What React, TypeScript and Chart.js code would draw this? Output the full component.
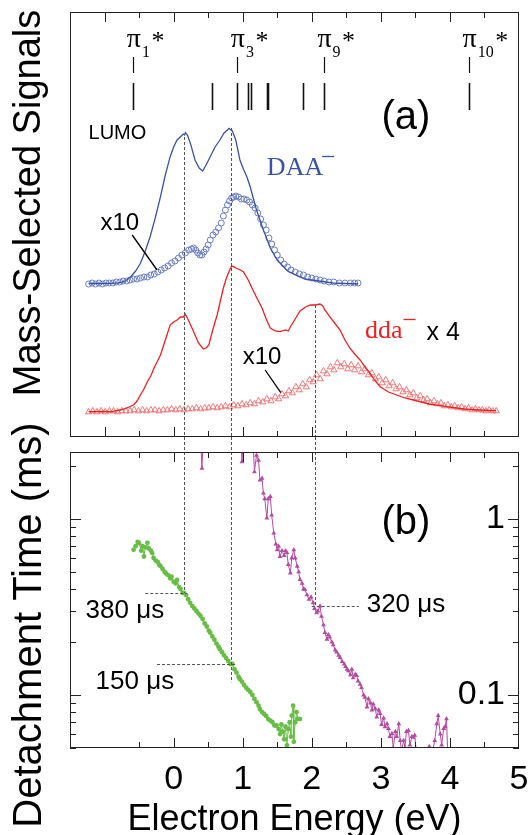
import { useEffect, useRef } from 'react';
import { Chart, registerables } from 'chart.js';

Chart.register(...registerables);

const SANS = '"Liberation Sans", Arial, Helvetica, sans-serif';
const SERIF = '"Liberation Serif", "Times New Roman", Times, serif';

type Pt = [number, number];

// ---------- Panel (a): electron energy (eV) vs mass-selected signal (a.u.)
const daaSignal: Pt[] = [
  [-1.23, 153.5], [-1.05, 153.5], [-0.9, 153.6], [-0.8, 154.2], [-0.72, 155.3], [-0.67, 157.5],
  [-0.62, 160.3], [-0.55, 166], [-0.48, 173.7], [-0.41, 186], [-0.34, 200.3], [-0.27, 218],
  [-0.19, 240.3], [-0.12, 262], [-0.05, 280.3], [0.0, 290], [0.05, 297], [0.1, 300.3],
  [0.14, 303], [0.16, 302], [0.17, 304.5], [0.2, 302], [0.25, 292], [0.31, 277], [0.37, 269],
  [0.42, 266], [0.47, 272], [0.53, 280.3], [0.6, 290], [0.67, 297], [0.73, 304], [0.78, 307],
  [0.8, 308.7], [0.85, 306], [0.9, 297], [0.96, 277], [1.01, 268], [1.06, 260.3], [1.11, 250],
  [1.16, 237], [1.2, 227], [1.25, 217], [1.3, 207], [1.4, 189], [1.5, 177], [1.65, 166],
  [1.9, 158], [2.3, 154], [2.67, 153],
];

const daaSignalX10: Pt[] = [
  [-1.23, 153], [-1.18, 154], [-1.13, 153], [-1.08, 154], [-1.03, 153], [-0.98, 154], [-0.93, 154],
  [-0.88, 154], [-0.83, 155], [-0.78, 155], [-0.73, 156], [-0.68, 156], [-0.63, 157], [-0.58, 158],
  [-0.53, 158], [-0.48, 159], [-0.43, 160], [-0.38, 160], [-0.33, 162], [-0.28, 163], [-0.23, 165],
  [-0.18, 167], [-0.13, 169], [-0.08, 171], [-0.03, 174], [0.02, 176], [0.07, 179], [0.12, 182],
  [0.17, 184], [0.22, 187], [0.26, 188], [0.29, 189], [0.32, 187], [0.35, 184], [0.38, 182],
  [0.41, 182], [0.44, 185], [0.47, 188], [0.5, 192], [0.53, 197], [0.57, 202], [0.61, 205],
  [0.65, 209], [0.69, 214], [0.72, 221], [0.75, 227], [0.78, 232], [0.81, 236], [0.84, 239],
  [0.87, 240], [0.9, 241], [0.94, 240], [0.98, 238], [1.02, 238], [1.06, 237], [1.1, 235],
  [1.14, 232], [1.18, 229], [1.22, 224], [1.26, 218], [1.3, 212], [1.34, 207], [1.38, 199],
  [1.42, 193], [1.46, 187], [1.5, 182], [1.55, 177], [1.6, 173], [1.65, 170], [1.7, 167],
  [1.76, 165], [1.82, 163], [1.88, 162], [1.94, 160], [2.0, 159], [2.06, 158], [2.12, 157],
  [2.18, 156], [2.25, 155], [2.32, 155], [2.4, 154], [2.48, 154], [2.56, 154], [2.62, 154], [2.67, 154],
];

const ddaSignal: Pt[] = [
  [-1.23, 25.3], [-1.05, 25.5], [-0.9, 25.3], [-0.77, 27], [-0.68, 29], [-0.58, 32], [-0.53, 36],
  [-0.48, 42], [-0.43, 48], [-0.38, 55.3], [-0.33, 61], [-0.29, 68], [-0.24, 75], [-0.19, 82],
  [-0.12, 97], [-0.05, 112], [0.0, 115], [0.05, 117], [0.1, 120], [0.14, 120], [0.17, 122.7],
  [0.22, 116], [0.29, 105.3], [0.36, 94], [0.43, 88], [0.47, 89], [0.51, 92], [0.57, 108],
  [0.63, 122], [0.68, 137], [0.72, 149], [0.76, 158], [0.8, 165.3], [0.84, 171], [0.87, 170.3],
  [0.9, 169], [0.94, 168], [1.01, 165.3], [1.08, 157], [1.16, 145.3], [1.22, 137], [1.28, 129],
  [1.34, 118], [1.4, 109], [1.47, 106], [1.54, 105.3], [1.62, 107], [1.66, 106], [1.69, 110],
  [1.76, 118], [1.83, 126], [1.91, 130], [1.98, 132], [2.05, 132], [2.12, 133], [2.16, 131],
  [2.19, 127], [2.26, 120.3], [2.33, 114], [2.41, 107], [2.48, 97], [2.55, 89], [2.62, 83],
  [2.7, 77], [2.77, 70], [2.84, 64], [2.91, 57], [2.99, 50.3], [3.11, 45], [3.23, 42], [3.35, 39],
  [3.47, 37], [3.7, 33], [3.95, 30.3], [4.2, 28], [4.43, 27], [4.67, 26.3],
];

const ddaSignalX10: Pt[] = [
  [-1.23, 25], [-1.17, 26], [-1.11, 25], [-1.05, 26], [-0.99, 25], [-0.93, 26], [-0.87, 26],
  [-0.81, 25], [-0.75, 26], [-0.69, 26], [-0.63, 26], [-0.57, 27], [-0.51, 26], [-0.45, 27],
  [-0.39, 26], [-0.33, 27], [-0.27, 27], [-0.21, 26], [-0.15, 27], [-0.09, 27], [-0.03, 28],
  [0.03, 27], [0.09, 28], [0.15, 27], [0.21, 28], [0.27, 28], [0.33, 29], [0.39, 28], [0.45, 29],
  [0.51, 29], [0.57, 30], [0.63, 29], [0.69, 30], [0.75, 31], [0.81, 30], [0.87, 32], [0.93, 31],
  [0.99, 33], [1.05, 32], [1.11, 34], [1.17, 33], [1.23, 36], [1.29, 35], [1.35, 38], [1.41, 36],
  [1.47, 40], [1.52, 38], [1.57, 43], [1.62, 41], [1.67, 46], [1.72, 44], [1.77, 50], [1.82, 47],
  [1.87, 53], [1.92, 50], [1.97, 57], [2.02, 55], [2.07, 62], [2.12, 58], [2.17, 66], [2.22, 63],
  [2.27, 70], [2.32, 67], [2.37, 74], [2.42, 70], [2.47, 73], [2.52, 68], [2.57, 72], [2.62, 67],
  [2.67, 71], [2.72, 65], [2.77, 68], [2.82, 62], [2.87, 64], [2.92, 58], [2.97, 60], [3.02, 54],
  [3.07, 57], [3.12, 51], [3.17, 54], [3.22, 48], [3.27, 50], [3.32, 45], [3.37, 47], [3.42, 42],
  [3.47, 44], [3.52, 39], [3.57, 41], [3.62, 37], [3.67, 38], [3.72, 34], [3.77, 36], [3.82, 33],
  [3.87, 34], [3.92, 31], [3.97, 32], [4.02, 30], [4.07, 31], [4.12, 29], [4.17, 30], [4.22, 28],
  [4.27, 29], [4.32, 27], [4.37, 28], [4.42, 27], [4.47, 27], [4.52, 26], [4.57, 27], [4.62, 26], [4.67, 26],
];

// ---------- Panel (b): electron energy (eV) vs detachment time (ms)
const daaTime: Pt[] = [
  [-0.58, 0.668], [-0.55, 0.7], [-0.52, 0.74], [-0.5, 0.729], [-0.47, 0.66], [-0.45, 0.7],
  [-0.43, 0.612], [-0.41, 0.69], [-0.38, 0.732], [-0.36, 0.68], [-0.33, 0.66], [-0.31, 0.64],
  [-0.29, 0.6], [-0.26, 0.58], [-0.23, 0.57], [-0.21, 0.55], [-0.19, 0.54], [-0.16, 0.52],
  [-0.13, 0.5], [-0.11, 0.49], [-0.08, 0.48], [-0.05, 0.46], [-0.03, 0.47], [0.0, 0.44],
  [0.03, 0.43], [0.05, 0.45], [0.08, 0.41], [0.1, 0.4], [0.13, 0.38], [0.15, 0.38], [0.18, 0.37],
  [0.21, 0.35], [0.24, 0.334], [0.27, 0.32], [0.3, 0.31], [0.33, 0.3], [0.36, 0.29], [0.39, 0.281],
  [0.42, 0.27], [0.45, 0.255], [0.48, 0.245], [0.51, 0.232], [0.53, 0.226], [0.56, 0.215],
  [0.59, 0.206], [0.62, 0.196], [0.65, 0.188], [0.67, 0.182], [0.7, 0.175], [0.73, 0.168],
  [0.76, 0.162], [0.79, 0.156], [0.82, 0.15], [0.85, 0.15], [0.88, 0.14], [0.91, 0.134],
  [0.94, 0.127], [0.96, 0.123], [0.99, 0.119], [1.02, 0.114], [1.05, 0.11], [1.08, 0.107],
  [1.11, 0.104], [1.14, 0.1], [1.17, 0.095], [1.2, 0.091], [1.23, 0.087], [1.25, 0.083],
  [1.28, 0.08], [1.31, 0.078], [1.34, 0.076], [1.37, 0.073], [1.4, 0.0716], [1.43, 0.07],
  [1.46, 0.067], [1.49, 0.0671], [1.52, 0.064], [1.54, 0.06], [1.56, 0.068], [1.58, 0.062],
  [1.6, 0.056], [1.62, 0.066], [1.64, 0.0517], [1.66, 0.064], [1.68, 0.07], [1.7, 0.058],
  [1.71, 0.0764], [1.73, 0.087], [1.74, 0.0542], [1.76, 0.07], [1.78, 0.08], [1.8, 0.0732], [1.83, 0.073],
];

const ddaTime: Pt[] = [
  [0.38, 3.5], [0.41, 1.94], [0.44, 3.5], [0.97, 3.5], [0.99, 2.11], [1.02, 3.5], [1.14, 3.5],
  [1.17, 1.85], [1.2, 2.3], [1.23, 2.15], [1.25, 1.66], [1.28, 1.7], [1.3, 1.4], [1.32, 1.3],
  [1.35, 1.01], [1.37, 1.3], [1.4, 1.34], [1.42, 1.05], [1.45, 0.83], [1.48, 0.72], [1.5, 0.668],
  [1.52, 0.7], [1.54, 0.612], [1.57, 0.66], [1.6, 0.62], [1.62, 0.66], [1.64, 0.643], [1.66, 0.55],
  [1.69, 0.493], [1.71, 0.6], [1.74, 0.668], [1.76, 0.6], [1.79, 0.538], [1.81, 0.5], [1.83, 0.452],
  [1.86, 0.43], [1.88, 0.4], [1.9, 0.397], [1.93, 0.37], [1.96, 0.349], [1.99, 0.36], [2.02, 0.334],
  [2.04, 0.31], [2.07, 0.293], [2.09, 0.3], [2.12, 0.32], [2.14, 0.28], [2.17, 0.25], [2.19, 0.226],
  [2.22, 0.207], [2.24, 0.22], [2.26, 0.213], [2.29, 0.2], [2.31, 0.193], [2.34, 0.18], [2.36, 0.175],
  [2.39, 0.168], [2.41, 0.163], [2.44, 0.155], [2.47, 0.15], [2.49, 0.145], [2.51, 0.14], [2.53, 0.137],
  [2.56, 0.13], [2.58, 0.14], [2.6, 0.125], [2.63, 0.131], [2.65, 0.129], [2.67, 0.12], [2.7, 0.115],
  [2.72, 0.11], [2.75, 0.1], [2.77, 0.097], [2.8, 0.0853], [2.82, 0.095], [2.85, 0.09], [2.87, 0.082],
  [2.89, 0.0888], [2.92, 0.0834], [2.94, 0.075], [2.97, 0.082], [2.99, 0.0783], [3.01, 0.068],
  [3.04, 0.074], [3.06, 0.066], [3.09, 0.0686], [3.11, 0.0645], [3.13, 0.058], [3.16, 0.0604],
  [3.18, 0.05], [3.21, 0.062], [3.23, 0.058], [3.26, 0.0686], [3.28, 0.055], [3.3, 0.048],
  [3.33, 0.0552], [3.35, 0.05], [3.37, 0.062], [3.4, 0.0628], [3.42, 0.052], [3.45, 0.058],
  [3.47, 0.0575], [3.49, 0.059], [3.52, 0.045], [3.55, 0.048], [3.6, 0.045], [3.66, 0.048],
  [3.7, 0.051], [3.74, 0.046], [3.78, 0.055], [3.81, 0.0686], [3.83, 0.0764], [3.86, 0.06],
  [3.88, 0.052], [3.91, 0.0645], [3.93, 0.066], [3.95, 0.0732], [3.97, 0.045],
];

// ---------- orbital levels (eV)
const levelEnergies = [-0.59, 0.555, 0.916, 1.07, 1.12, 1.35, 1.37, 1.87, 2.17, 4.27];
const levelNames = ['1', '3', '9', '10'];
const levelNameEnergies = [-0.59, 0.916, 2.17, 4.27];

// ---------- axes
const xMin = -1.5;
const xMax = 5;
const xTicksA = [-1, -0.5, 0, 0.5, 1, 1.5, 2, 2.5, 3, 3.5, 4, 4.5];
const xTicksB = [-0.5, 0, 0.5, 1, 1.5, 2, 2.5, 3, 3.5, 4, 4.5];
const xTickLabels = ['0', '1', '2', '3', '4', '5'];
const yMinA = 0;
const yMaxA = 425;
const yMinB = 0.05;
const yMaxB = 2.4;
const yMajorB = [0.1, 1];
const yMajorLabelsB = ['0.1', '1'];
const yMinorB = [0.05, 0.06, 0.07, 0.08, 0.09, 0.2, 0.3, 0.4, 0.5, 0.6, 0.7, 0.8, 0.9, 2];

// ---------- guide lines linking peaks to detachment times
const guideEnergies = [0.146, 0.83, 2.05];
const guideSignals = [300, 309, 132];
const guideTimes = [0.38, 0.118, 0.32];
const markLabels = ['380 μs', '150 μs', '320 μs'];
const markTimes = [0.38, 0.15, 0.32];
const markFrom = [-0.41, -0.24, 2.0];
const markTo = [0.19, 0.92, 2.68];

const BLUE = '#3a53a6';
const BLUE_LIGHT = '#6a7fc4';
const RED = '#ee2020';
const RED_LIGHT = '#f26a6a';
const GREEN = '#68bd45';
const MAGENTA = '#b54aa3';
const AXIS = '#222';
const GUIDE = '#555';

const xy = (arr: Pt[]) => arr.map(([x, y]) => ({ x, y }));

function drawRotated(ctx: CanvasRenderingContext2D, text: string, x: number, y: number, font: string) {
  ctx.save();
  ctx.translate(x, y);
  ctx.rotate(-Math.PI / 2);
  ctx.font = font;
  ctx.fillStyle = '#000';
  ctx.textAlign = 'center';
  ctx.textBaseline = 'middle';
  ctx.fillText(text, 0, 0);
  ctx.restore();
}

const panelAPlugin = {
  id: 'panelA',
  afterDatasetsDraw(chart: any) {
    const { ctx, chartArea: a } = chart;
    const xs = chart.scales.x;
    const ys = chart.scales.y;
    const X = (v: number) => xs.getPixelForValue(v);
    const Y = (v: number) => ys.getPixelForValue(v);
    ctx.save();
    // dashed guides
    ctx.strokeStyle = GUIDE;
    ctx.lineWidth = 1;
    ctx.setLineDash([3, 2]);
    guideEnergies.forEach((e, i) => {
      const px = Math.round(X(e)) + 0.5;
      ctx.beginPath();
      ctx.moveTo(px, Y(guideSignals[i]));
      ctx.lineTo(px, a.bottom);
      ctx.stroke();
    });
    ctx.setLineDash([]);
    // frame
    ctx.strokeStyle = AXIS;
    ctx.lineWidth = 1;
    ctx.strokeRect(a.left + 0.5, a.top + 0.5, a.right - a.left - 1, a.bottom - a.top - 1);
    ctx.beginPath();
    xTicksA.forEach((t) => {
      const px = Math.round(X(t)) + 0.5;
      const len = Number.isInteger(t) ? 10 : 6;
      ctx.moveTo(px, a.top);
      ctx.lineTo(px, a.top + len);
      ctx.moveTo(px, a.bottom);
      ctx.lineTo(px, a.bottom - len);
    });
    ctx.stroke();
    // orbital levels
    ctx.strokeStyle = '#111';
    ctx.lineWidth = 1.6;
    ctx.beginPath();
    levelEnergies.forEach((e) => {
      const px = Math.round(X(e)) + 0.5;
      ctx.moveTo(px, a.top + 71);
      ctx.lineTo(px, a.top + 98);
    });
    ctx.stroke();
    ctx.lineWidth = 1.2;
    ctx.beginPath();
    levelNameEnergies.forEach((e) => {
      const px = Math.round(X(e)) + 0.5;
      ctx.moveTo(px, a.top + 45);
      ctx.lineTo(px, a.top + 61);
    });
    ctx.stroke();
    ctx.fillStyle = '#000';
    ctx.textBaseline = 'alphabetic';
    levelNameEnergies.forEach((e, i) => {
      const px = X(e);
      ctx.font = `28px ${SERIF}`;
      ctx.textAlign = 'center';
      ctx.fillText('π', px + 1, a.top + 35);
      const piW = ctx.measureText('π').width;
      ctx.textAlign = 'left';
      ctx.font = `16px ${SERIF}`;
      const sx = px + piW / 2 + 2;
      ctx.fillText(levelNames[i], sx, a.top + 45);
      const subW = ctx.measureText(levelNames[i]).width;
      ctx.font = `26px ${SERIF}`;
      ctx.fillText('*', sx + subW + 1.5, a.top + 37);
    });
    // text annotations
    ctx.textAlign = 'left';
    ctx.textBaseline = 'middle';
    ctx.font = `20px ${SANS}`;
    ctx.fillText('LUMO', X(-1.232), Y(304));
    ctx.font = `24px ${SANS}`;
    ctx.fillText('x10', X(-1.06), Y(214));
    ctx.fillText('x10', X(1.0), Y(80));
    ctx.font = `25px ${SANS}`;
    ctx.fillText('x 4', X(3.66), Y(104));
    ctx.font = `40px ${SANS}`;
    ctx.fillText('(a)', X(3.01), Y(319));
    // leaders
    ctx.strokeStyle = '#000';
    ctx.lineWidth = 1.3;
    ctx.beginPath();
    ctx.moveTo(X(-0.6), Y(202));
    ctx.lineTo(X(-0.24), Y(167));
    ctx.moveTo(X(1.325), Y(67));
    ctx.lineTo(X(1.552), Y(44.3));
    ctx.stroke();
    // species labels
    ctx.textBaseline = 'alphabetic';
    ctx.font = `26px ${SERIF}`;
    ctx.fillStyle = BLUE;
    ctx.fillText('DAA', X(1.35), Y(262));
    const wD = ctx.measureText('DAA').width;
    ctx.strokeStyle = BLUE;
    ctx.lineWidth = 1.3;
    ctx.beginPath();
    ctx.moveTo(X(1.35) + wD - 1, Y(262) - 18.5);
    ctx.lineTo(X(1.35) + wD + 11, Y(262) - 18.5);
    ctx.stroke();
    ctx.fillStyle = RED;
    ctx.fillText('dda', X(2.77), Y(99));
    const wd = ctx.measureText('dda').width;
    ctx.strokeStyle = RED;
    ctx.beginPath();
    ctx.moveTo(X(2.77) + wd + 1, Y(99) - 18.5);
    ctx.lineTo(X(2.77) + wd + 13, Y(99) - 18.5);
    ctx.stroke();
    // y title
    drawRotated(ctx, 'Mass-Selected Signals', 30, 203, `38px ${SANS}`);
    ctx.restore();
  },
};

const panelBPlugin = {
  id: 'panelB',
  afterDatasetsDraw(chart: any) {
    const { ctx, chartArea: a } = chart;
    const xs = chart.scales.x;
    const ys = chart.scales.yR;
    const X = (v: number) => xs.getPixelForValue(v);
    const Y = (v: number) => ys.getPixelForValue(v);
    ctx.save();
    ctx.strokeStyle = GUIDE;
    ctx.lineWidth = 1;
    ctx.setLineDash([3, 2]);
    guideEnergies.forEach((e, i) => {
      const px = Math.round(X(e)) + 0.5;
      ctx.beginPath();
      ctx.moveTo(px, a.top - 15);
      ctx.lineTo(px, Y(guideTimes[i]));
      ctx.stroke();
    });
    markTimes.forEach((v, i) => {
      const py = Math.round(Y(v)) + 0.5;
      ctx.beginPath();
      ctx.moveTo(X(markFrom[i]), py);
      ctx.lineTo(X(markTo[i]), py);
      ctx.stroke();
    });
    ctx.setLineDash([]);
    // frame
    ctx.strokeStyle = AXIS;
    ctx.lineWidth = 1;
    ctx.strokeRect(a.left + 0.5, a.top + 0.5, a.right - a.left - 1, a.bottom - a.top - 1);
    ctx.beginPath();
    xTicksB.forEach((t) => {
      const px = Math.round(X(t)) + 0.5;
      const len = Number.isInteger(t) ? 10 : 6;
      ctx.moveTo(px, a.top);
      ctx.lineTo(px, a.top + len);
      ctx.moveTo(px, a.bottom);
      ctx.lineTo(px, a.bottom - len);
    });
    const yTick = (v: number, len: number) => {
      const py = Math.round(Y(v)) + 0.5;
      ctx.moveTo(a.left, py);
      ctx.lineTo(a.left + len, py);
      ctx.moveTo(a.right, py);
      ctx.lineTo(a.right - len, py);
    };
    yMajorB.forEach((v) => yTick(v, 11));
    yMinorB.forEach((v) => yTick(v, 6));
    ctx.stroke();
    // annotations
    ctx.fillStyle = '#000';
    ctx.textAlign = 'left';
    ctx.textBaseline = 'middle';
    ctx.font = `40px ${SANS}`;
    ctx.fillText('(b)', X(3.01), Y(0.949));
    ctx.font = `26px ${SANS}`;
    ctx.fillText(markLabels[0], X(-1.275), Y(0.299));
    ctx.fillText(markLabels[1], X(-1.13), Y(0.119));
    ctx.fillText(markLabels[2], X(2.795), Y(0.327));
    drawRotated(ctx, 'Detachment Time (ms)', 30, a.top + 173, `40px ${SANS}`);
    ctx.restore();
  },
};

export default function App() {
  const refA = useRef<HTMLCanvasElement>(null);
  const refB = useRef<HTMLCanvasElement>(null);

  useEffect(() => {
    Chart.defaults.font.family = SANS;
    const chartA = new Chart(refA.current as HTMLCanvasElement, {
      type: 'line',
      data: {
        datasets: [
          { data: xy(daaSignal), borderColor: BLUE, borderWidth: 1.3, pointRadius: 0, tension: 0, fill: false },
          { data: xy(ddaSignal), borderColor: RED, borderWidth: 1.3, pointRadius: 0, tension: 0, fill: false },
          {
            data: xy(daaSignalX10), showLine: false, pointStyle: 'circle', pointRadius: 3, pointBorderWidth: 1,
            pointBorderColor: BLUE_LIGHT, pointBackgroundColor: 'rgba(255,255,255,0)', borderColor: BLUE_LIGHT,
          },
          {
            data: xy(ddaSignalX10), showLine: false, pointStyle: 'triangle', pointRadius: 3.6, pointBorderWidth: 0.9,
            pointBorderColor: RED_LIGHT, pointBackgroundColor: 'rgba(255,255,255,0)', borderColor: RED_LIGHT,
          },
        ],
      } as any,
      options: {
        responsive: false,
        animation: false,
        events: [],
        layout: { padding: { left: 70, right: 11, top: 12, bottom: 8 } },
        plugins: { legend: { display: false }, tooltip: { enabled: false } },
        scales: {
          x: { type: 'linear', min: xMin, max: xMax, display: false },
          y: { type: 'linear', min: yMinA, max: yMaxA, display: false },
        },
      } as any,
      plugins: [panelAPlugin],
    });

    const chartB = new Chart(refB.current as HTMLCanvasElement, {
      type: 'line',
      data: {
        datasets: [
          {
            data: xy(daaTime), yAxisID: 'yR', borderColor: GREEN, borderWidth: 1, pointStyle: 'circle', pointRadius: 2.4,
            pointBorderWidth: 0, pointBackgroundColor: GREEN, tension: 0, fill: false, clip: 0,
          },
          {
            data: xy(ddaTime), yAxisID: 'yR', borderColor: MAGENTA, borderWidth: 1, pointStyle: 'triangle', pointRadius: 2.8,
            pointBorderWidth: 0, pointBackgroundColor: MAGENTA, tension: 0, fill: false, clip: 0,
          },
        ],
      } as any,
      options: {
        responsive: false,
        animation: false,
        events: [],
        layout: { padding: { left: 70, right: 0, top: 52, bottom: 0 } },
        plugins: { legend: { display: false }, tooltip: { enabled: false } },
        scales: {
          x: {
            type: 'linear', min: xMin, max: xMax, position: 'bottom',
            grid: { display: false, drawTicks: false }, border: { display: false },
            ticks: {
              stepSize: 0.5, autoSkip: false, maxRotation: 0, padding: 11, color: '#000',
              font: { size: 34, family: SANS },
              callback: (v: number) => {
                const idx = xTickLabels.indexOf(String(v));
                return Number.isInteger(v) && idx >= 0 ? xTickLabels[idx] : '';
              },
            },
            title: {
              display: true, text: 'Electron Energy (eV)', color: '#000',
              font: { size: 36, family: SANS, lineHeight: 1 }, padding: { top: 0, bottom: -3 },
            },
            afterFit: (s: any) => { s.height = 87; s.paddingLeft = 0; s.paddingRight = 0; },
          },
          yR: {
            type: 'logarithmic', position: 'right', min: yMinB, max: yMaxB,
            grid: { display: false, drawTicks: false }, border: { display: false },
            ticks: {
              mirror: true, padding: -14, color: '#000', autoSkip: false,
              font: { size: 34, family: SANS },
              callback: (v: number) => {
                const i = yMajorB.findIndex((m) => Math.abs(v - m) < m * 1e-6);
                return i >= 0 ? yMajorLabelsB[i] : '';
              },
            },
            afterFit: (s: any) => { s.width = 11; s.paddingTop = 0; s.paddingBottom = 0; },
          },
        },
      } as any,
      plugins: [panelBPlugin],
    });

    return () => {
      chartA.destroy();
      chartB.destroy();
    };
  }, []);

  return (
    <div style={{ position: 'absolute', left: 0, top: 0, width: 530, height: 835, background: '#fff' }}>
      <canvas ref={refA} width={530} height={445} style={{ position: 'absolute', left: 0, top: 0, width: 530, height: 445 }} />
      <canvas ref={refB} width={530} height={435} style={{ position: 'absolute', left: 0, top: 400, width: 530, height: 435 }} />
    </div>
  );
}
